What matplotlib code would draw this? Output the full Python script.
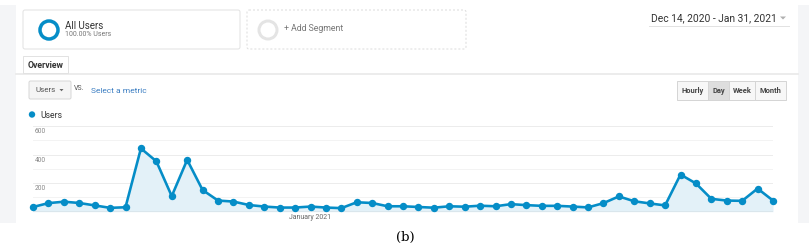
import matplotlib
matplotlib.use('Agg')
import matplotlib.pyplot as plt
from matplotlib.patches import FancyBboxPatch, Rectangle, Circle, Polygon
import pandas as pd

plt.rcParams['font.family'] = ['Roboto', 'DejaVu Sans']

# ---------------- data ----------------
start_date = '2020-12-14'
end_date = '2021-01-31'
users = [33, 60, 70, 61, 44, 27, 31, 443, 353, 109, 363, 152, 78,
         71, 47, 36, 29, 29, 36, 29, 25, 66, 61, 38, 38, 33, 28,
         38, 35, 42, 38, 53, 46, 41, 41, 36, 30, 60, 107, 73, 58,
         44, 260, 198, 90, 78, 76, 162, 78]
y_ticks = [200, 400, 600]
grid_levels = [100, 200, 300, 400, 500, 600]
x_tick_date = '2021-01-01'
x_tick_label = 'January 2021'
metric = 'Users'
segment = 'All Users'
segment_share = '100.00% Users'
add_segment = '+ Add Segment'
date_range_label = 'Dec 14, 2020 - Jan 31, 2021'
granularities = ['Hourly', 'Day', 'Week', 'Month']
active_granularity = 'Day'
caption = '(b)'

BLUE = '#058dc7'
PX = 0.72  # points per pixel at dpi 100

W, H = 809, 249
fig = plt.figure(figsize=(W / 100, H / 100), dpi=100)
fig.patch.set_facecolor('white')
bg = fig.add_axes([0, 0, 1, 1])
bg.set_xlim(0, W)
bg.set_ylim(H, 0)
bg.axis('off')

# side strips
bg.add_patch(Rectangle((0, 5), 16, 218, fc='#f4f5f7', ec='none'))
bg.add_patch(Rectangle((798, 5), 11, 218, fc='#f4f5f7', ec='none'))

# segment box 1
bg.add_patch(FancyBboxPatch((23, 10), 217, 39, boxstyle='round,pad=0,rounding_size=2',
                            fc='white', ec='#e2e2e2', lw=PX))
bg.add_patch(Circle((49, 30), 9, fill=False, ec=BLUE, lw=3.5 * PX))
bg.text(65, 25.5, segment, fontsize=7, color='#333333', va='center', ha='left')
bg.text(65, 34.5, segment_share, fontsize=5, color='#777777', va='center', ha='left')

# segment box 2
bg.add_patch(FancyBboxPatch((247, 10), 219, 39, boxstyle='round,pad=0,rounding_size=2',
                            fc='white', ec='#dcdcdc', lw=PX, ls=(0, (2, 2))))
bg.add_patch(Circle((268, 30), 9, fill=False, ec='#e4e4e4', lw=3 * PX))
bg.text(284, 28.5, add_segment, fontsize=6.3, color='#777777', va='center', ha='left')

# date range
bg.text(651, 18, date_range_label, fontsize=7.4, color='#333333', va='center', ha='left')
bg.add_patch(Polygon([[780, 16.5], [786, 16.5], [783, 19.5]], closed=True, fc='#b0b0b0', ec='none'))
bg.plot([649, 789], [25.5, 25.5], color='#e2e2e2', lw=PX)

# tab + separator
bg.plot([16, 798], [73.5, 73.5], color='#ececec', lw=2 * PX, zorder=1)
bg.add_patch(Rectangle((23, 56), 45, 17, fc='white', ec='#e2e2e2', lw=PX, zorder=2))
bg.text(28, 65, 'Overview', fontsize=6.3, fontweight='bold', color='#333333',
        va='center', ha='left', zorder=3)

# metric dropdown
bg.add_patch(FancyBboxPatch((29, 81), 42, 18, boxstyle='round,pad=0,rounding_size=1.5',
                            fc='#f5f5f5', ec='#d8d8d8', lw=PX))
bg.text(35.5, 90, metric, fontsize=5.8, color='#555555', va='center', ha='left')
bg.add_patch(Polygon([[59.5, 89], [63.5, 89], [61.5, 91.3]], closed=True, fc='#666666', ec='none'))
bg.text(73.5, 88.5, 'VS.', fontsize=5, color='#555555', va='center', ha='left')
bg.text(91, 90.5, 'Select a metric', fontsize=6, color='#3c7ec2', va='center', ha='left')

# granularity buttons
edges = [676.7, 708, 729, 755, 785.7]
for i, g in enumerate(granularities):
    x0, x1 = edges[i], edges[i + 1]
    fc = '#dedede' if g == active_granularity else '#f7f7f7'
    bg.add_patch(Rectangle((x0, 81), x1 - x0, 19, fc=fc, ec='#d5d5d5', lw=PX))
    bg.text((x0 + x1) / 2, 90.5, g, fontsize=5.4, fontweight='bold', color='#444444',
            va='center', ha='center')

# legend
bg.add_patch(Circle((32, 114.5), 3.2, fc=BLUE, ec='none'))
bg.text(40, 115, metric, fontsize=6.2, color='#333333', va='center', ha='left')

# caption
bg.text(405, 237, caption, fontsize=9.5, family='DejaVu Serif', color='black',
        va='center', ha='center')

# ---------------- chart ----------------
dates = pd.date_range(start_date, end_date, freq='D')
left, right = 33, 773
y0_px, y600_px = 211.7, 126.0
ax = fig.add_axes([left / W, (H - y0_px) / H, (right - left) / W, (y0_px - y600_px) / H])
ax.patch.set_alpha(0)
ax.set_xlim(dates[0], dates[-1])
ax.set_ylim(0, 600)
ax.axis('off')

for v in grid_levels:
    ax.axhline(v, color='#ececec' if v in y_ticks else '#f3f3f3', lw=PX, zorder=0)
ax.axhline(0, color='#8c8c8c', lw=1.2 * PX, zorder=2)

ax.fill_between(dates, users, 0, color='#e3f1f8', zorder=1, lw=0)
ax.plot(dates, users, color=BLUE, lw=2.6 * PX, marker='o', ms=6 * PX,
        clip_on=False, zorder=3)

for v in y_ticks:
    ax.annotate(str(v), xy=(dates[0], v), xytext=(2 * PX, -5.5 * PX),
                textcoords='offset points', fontsize=4.8, color='#888888',
                ha='left', va='center')

ax.annotate(x_tick_label, xy=(pd.Timestamp(x_tick_date), 0), xytext=(0, -6 * PX),
            textcoords='offset points', fontsize=5, color='#666666',
            ha='center', va='center', annotation_clip=False)

fig.savefig('out.png', dpi=100)
